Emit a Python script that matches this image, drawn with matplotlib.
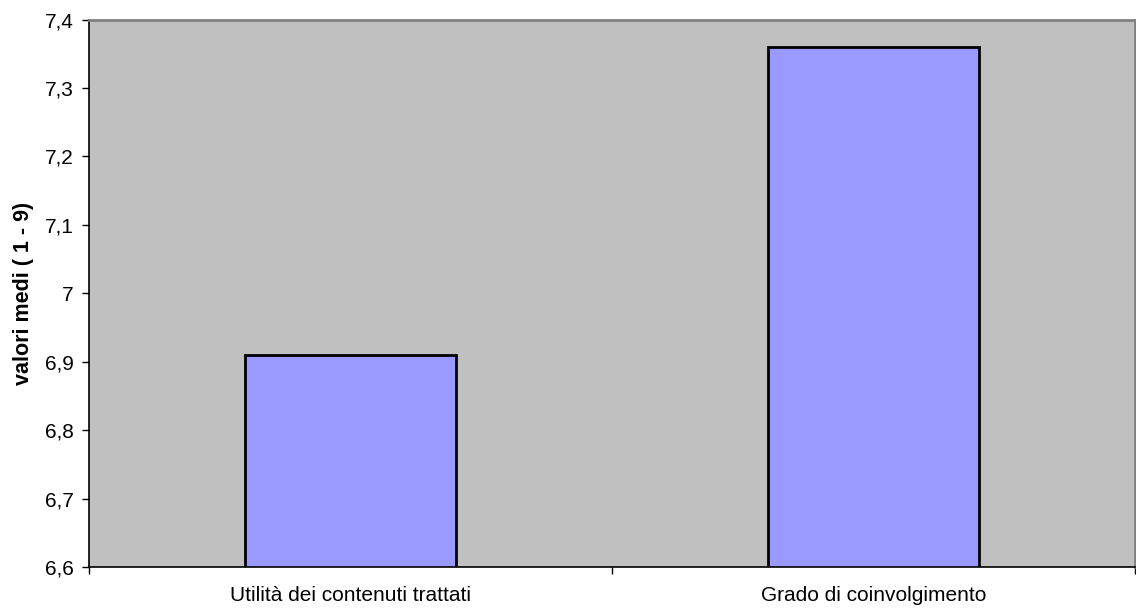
import matplotlib
matplotlib.use("Agg")
import matplotlib.pyplot as plt
from matplotlib.ticker import FuncFormatter

# Dati del grafico
categorie = ["Utilità dei contenuti trattati", "Grado di coinvolgimento"]
valori_medi = [6.91, 7.36]
y_ticks = [6.6, 6.7, 6.8, 6.9, 7.0, 7.1, 7.2, 7.3, 7.4]

plt.rcParams["font.family"] = ["Liberation Sans", "DejaVu Sans"]

fig = plt.figure(figsize=(11.36, 6.12), dpi=100)
ax = fig.add_axes([0.0783, 0.0735, 0.9208, 0.8946])
ax.set_facecolor("#C0C0C0")

x = list(range(len(categorie)))
ax.bar(x, valori_medi, width=0.403, color="#9999FF", edgecolor="black",
       linewidth=2, zorder=2)

ax.set_xlim(-0.5, len(categorie) - 0.5)
ax.set_ylim(6.6, 7.4)
ax.set_yticks(y_ticks)


def virgola(v, pos):
    s = f"{v:.1f}".replace(".", ",")
    return s[:-2] if s.endswith(",0") else s


ax.yaxis.set_major_formatter(FuncFormatter(virgola))
ax.set_xticks(x)
ax.set_xticklabels(categorie)
ax.set_xticks([i - 0.5 for i in range(len(categorie) + 1)], minor=True)

ax.tick_params(axis="x", which="major", length=0, pad=14, labelsize=15)
ax.tick_params(axis="x", which="minor", length=5, width=1, direction="out")
ax.tick_params(axis="y", length=5, width=1, direction="out", pad=6, labelsize=15)

ax.set_ylabel("valori medi ( 1 - 9)", fontsize=15.5, fontweight="bold", labelpad=8)

for lato in ["left", "bottom"]:
    ax.spines[lato].set_color("black")
    ax.spines[lato].set_linewidth(1.2)
for lato in ["top", "right"]:
    ax.spines[lato].set_color("#808080")
    ax.spines[lato].set_linewidth(2)

fig.savefig("out.png", dpi=100)
